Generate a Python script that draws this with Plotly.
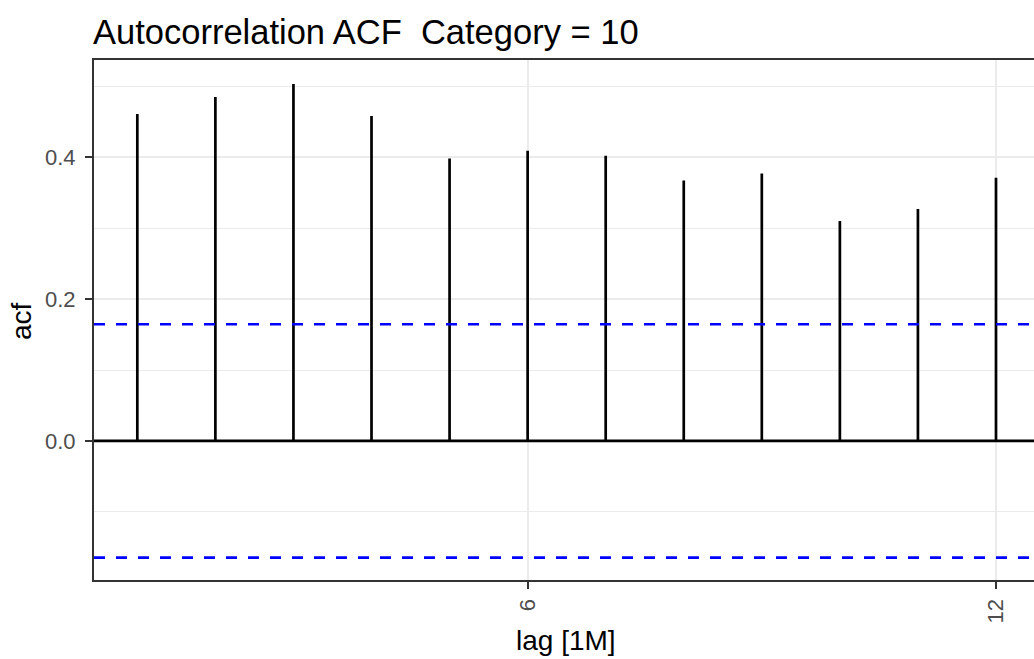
import plotly.graph_objects as go

lags = [1, 2, 3, 4, 5, 6, 7, 8, 9, 10, 11, 12]
acf = [0.461, 0.485, 0.503, 0.458, 0.398, 0.409, 0.402, 0.367, 0.377, 0.310, 0.327, 0.371]
ci = 0.1645
y_tickvals = [0.0, 0.2, 0.4]
y_minorvals = [-0.1, 0.1, 0.3, 0.5]
x_tickvals = [6, 12]
title_text = "Autocorrelation ACF\u00a0\u00a0Category = 10"

W, H = 1034, 659
L, R, T, B = 94, 0, 60, 79

xs, ys = [], []
for l, v in zip(lags, acf):
    xs += [l, l, None]
    ys += [0, v, None]

fig = go.Figure()
fig.add_trace(go.Scatter(x=xs, y=ys, mode="lines",
                         line=dict(color="black", width=2.7),
                         hoverinfo="skip", showlegend=False))

fig.add_shape(type="line", xref="paper", x0=0, x1=1, yref="y", y0=0, y1=0,
              line=dict(color="black", width=2.7), layer="above")

for c in (ci, -ci):
    fig.add_shape(type="line", xref="paper", x0=0, x1=1, yref="y", y0=c, y1=c,
                  line=dict(color="#0000FF", width=2.7, dash="11px,11px"), layer="above")

fig.update_layout(
    width=W, height=H,
    margin=dict(l=L, r=R, t=T, b=B),
    paper_bgcolor="white", plot_bgcolor="white",
    font=dict(family="Liberation Sans, Arial, sans-serif", color="#000000"),
    title=dict(text=title_text, x=93 / W, xanchor="left", xref="container",
               y=1 - 32 / H, yanchor="middle", yref="container",
               font=dict(size=34.5, color="black")),
    showlegend=False,
)

fig.update_xaxes(
    range=[0.445, 12 + (1034 - 996) / 78.05],
    tickvals=x_tickvals, ticktext=[str(v) for v in x_tickvals],
    tickangle=-90, ticks="outside", ticklen=7, tickwidth=2.2, tickcolor="#333333",
    tickfont=dict(size=22, color="#4D4D4D"), ticklabelstandoff=1,
    showgrid=True, gridcolor="#EBEBEB", gridwidth=2,
    showline=True, linecolor="#333333", linewidth=2.2, mirror=True,
    zeroline=False,
)
fig.update_yaxes(
    range=[-0.196, 0.537],
    tickvals=y_tickvals, ticktext=["%.1f" % v for v in y_tickvals],
    ticks="outside", ticklen=7, tickwidth=2.2, tickcolor="#333333",
    tickfont=dict(size=22, color="#4D4D4D"), ticklabelstandoff=5,
    showgrid=True, gridcolor="#EBEBEB", gridwidth=2,
    minor=dict(tickvals=y_minorvals, showgrid=True, gridcolor="#EBEBEB", gridwidth=1, ticks=""),
    showline=True, linecolor="#333333", linewidth=2.2, mirror=False,
    zeroline=False,
)

plot_w = W - L - R
plot_h = H - T - B
fig.add_annotation(text="lag [1M]", xref="paper", yref="paper",
                   x=(566 - L) / plot_w, y=-(640 - (H - B)) / plot_h,
                   xanchor="center", yanchor="middle", showarrow=False,
                   font=dict(size=28, color="black"))
fig.add_annotation(text="acf", xref="paper", yref="paper",
                   x=(21 - L) / plot_w, y=((H - B) - 321) / plot_h,
                   xanchor="center", yanchor="middle", textangle=-90, showarrow=False,
                   font=dict(size=28, color="black"))

fig.write_html("out.html", config={"displayModeBar": False},
               post_script="document.body.style.margin='0px';")
